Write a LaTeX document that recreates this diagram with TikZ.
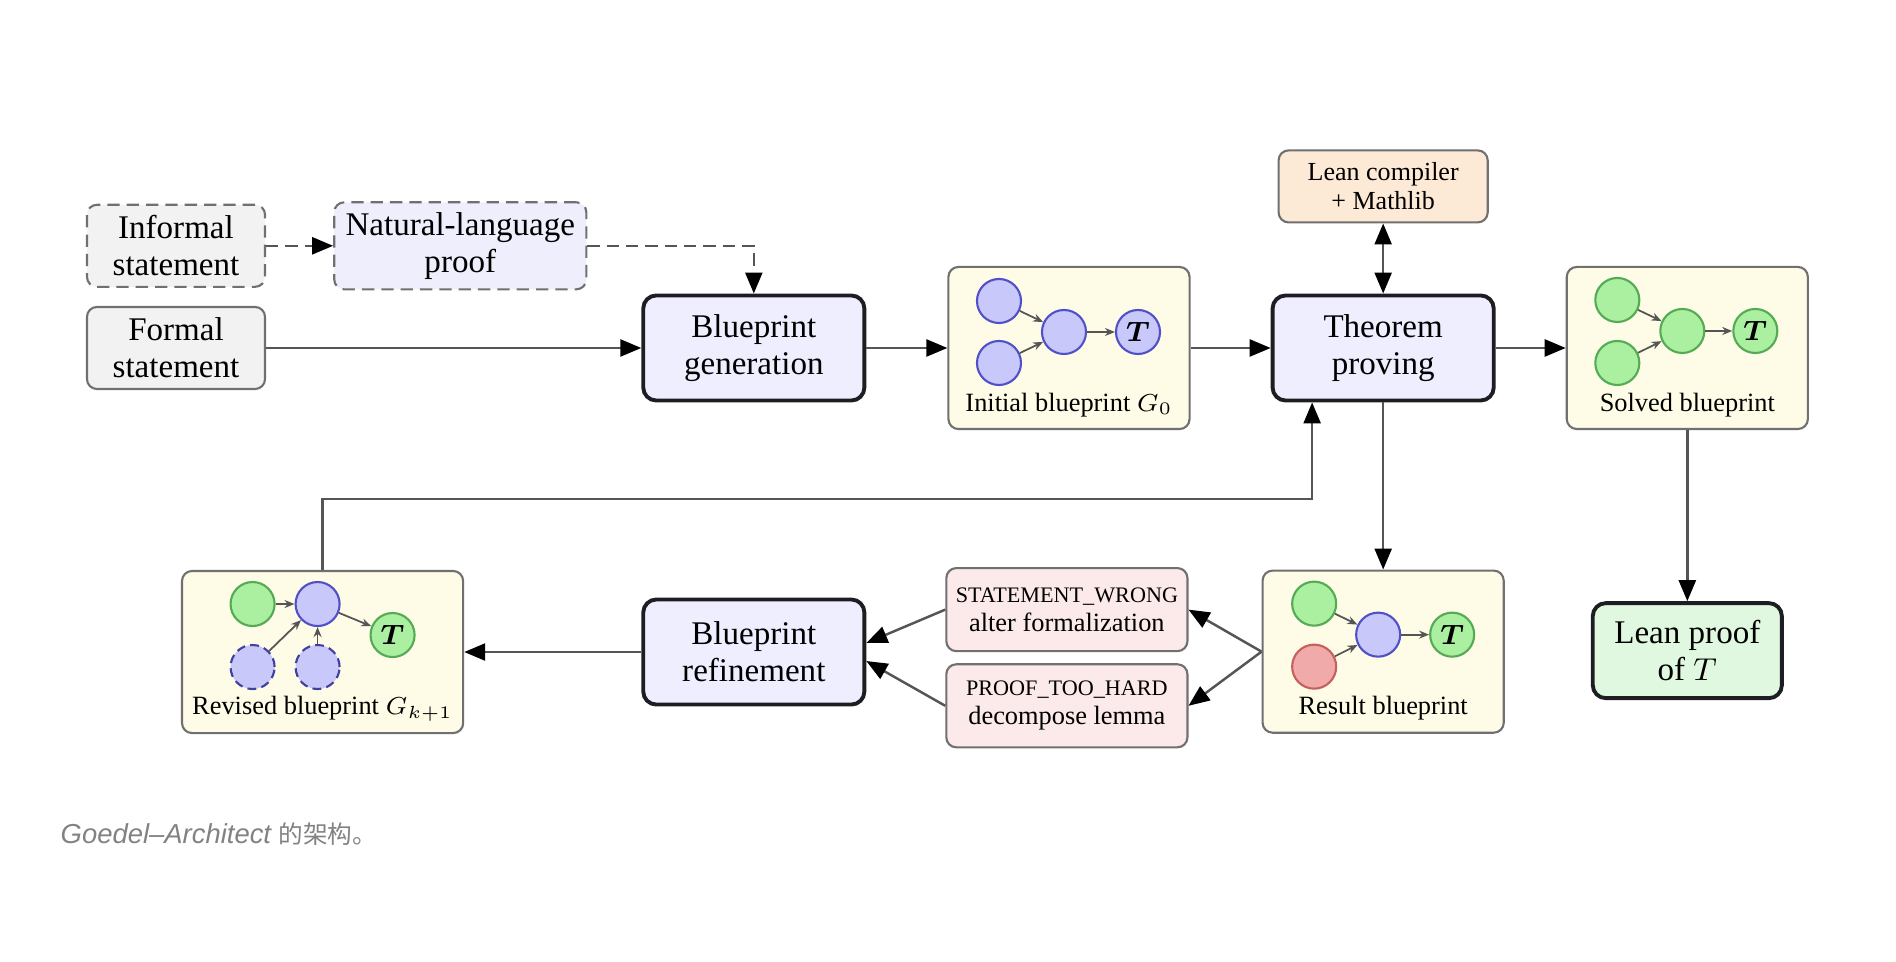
\documentclass[tikz,border=0pt]{standalone}
\usepackage{fontspec}
\setmainfont{Liberation Serif}
\newfontfamily\capfont{Liberation Sans}
\newfontfamily\cjkfont{Noto Sans CJK SC}
\usetikzlibrary{arrows.meta, positioning, calc}
\definecolor{greyfill}{RGB}{242,242,242}
\definecolor{nlfill}{RGB}{238,238,252}
\definecolor{procfill}{RGB}{238,238,255}
\definecolor{bpfill}{RGB}{254,252,230}
\definecolor{toolfill}{RGB}{252,233,214}
\definecolor{errfill}{RGB}{252,233,233}
\definecolor{proofill}{RGB}{224,248,224}
\definecolor{edge}{RGB}{112,112,112}
\definecolor{dark}{RGB}{30,30,34}
\definecolor{linecol}{RGB}{85,85,85}
\definecolor{openfill}{RGB}{200,200,250}
\definecolor{openedge}{RGB}{80,80,200}
\definecolor{donefill}{RGB}{170,240,160}
\definecolor{doneedge}{RGB}{85,170,85}
\definecolor{failfill}{RGB}{240,170,170}
\definecolor{failedge}{RGB}{200,95,95}
\definecolor{capgrey}{RGB}{130,130,130}

\begin{document}
\begin{tikzpicture}[
    x=0.01cm, y=-0.01cm,
    >={Triangle[length=0.21cm, width=0.17cm, color=black]},
    base/.style={rectangle, rounded corners=0.1cm, align=center, inner sep=0pt},
    input/.style={base, minimum width=1.78cm, minimum height=0.82cm, font=\fontsize{9.4}{10.5}\selectfont, fill=greyfill, draw=edge, line width=0.6pt},
    hint/.style={input, dash pattern=on 3.5pt off 2pt},
    process/.style={base, rounded corners=0.13cm, minimum width=2.21cm, minimum height=1.05cm, font=\fontsize{9.4}{10.5}\selectfont, fill=procfill, draw=dark, line width=1.1pt},
    graphbox/.style={base, minimum width=2.41cm, minimum height=1.62cm, fill=bpfill, draw=edge, line width=0.6pt},
    tool/.style={base, minimum width=2.09cm, minimum height=0.72cm, font=\fontsize{7.4}{8.2}\selectfont, fill=toolfill, draw=edge, line width=0.6pt},
    error/.style={base, minimum width=2.41cm, minimum height=0.83cm, font=\fontsize{7.5}{8.2}\selectfont, fill=errfill, draw=edge, line width=0.6pt},
    outcome/.style={base, rounded corners=0.13cm, minimum width=1.89cm, minimum height=0.95cm, font=\fontsize{9.4}{10.5}\selectfont, fill=proofill, draw=dark, line width=1.1pt},
    label/.style={font=\fontsize{7.5}{9}\selectfont, inner sep=0pt},
    vert/.style={circle, minimum size=0.44cm, inner sep=0pt, line width=0.6pt, font=\fontsize{8}{9}\selectfont\boldmath},
    open/.style={vert, fill=openfill, draw=openedge},
    done/.style={vert, fill=donefill, draw=doneedge},
    fail/.style={vert, fill=failfill, draw=failedge},
    arr/.style={->, line width=0.7pt, linecol},
    dasharr/.style={arr, dash pattern=on 3.5pt off 2pt},
    dep/.style={-{Stealth[length=0.1cm, width=0.08cm]}, line width=0.5pt, linecol},
]
\useasboundingbox (0,0) rectangle (1896,962);

% inputs
\node[input] (formal) at (176,348) {Formal\\statement};
\node[hint, above=0.18cm of formal] (informal) {Informal\\statement};
\node[hint, fill=nlfill, minimum width=2.52cm, minimum height=0.87cm, right=0.67cm of informal] (nlproof) {Natural-language\\proof};

% main line
\node[process, right=3.75cm of formal] (bpgen) {Blueprint\\generation};
\node[graphbox, right=0.81cm of bpgen] (initbp) {};
\node[process, right=0.8cm of initbp] (thmprove) {Theorem\\proving};
\node[graphbox, right=0.7cm of thmprove] (solvedbp) {};
\node[tool, above=0.7cm of thmprove] (leanc) {Lean compiler\\+ Mathlib};

% refinement loop
\node[graphbox, below=1.67cm of thmprove] (resultbp) {};
\node[outcome, below=1.71cm of solvedbp] (leanproof) {Lean proof\\of $T$};
\node[process, below=1.95cm of bpgen] (bpref) {Blueprint\\refinement};
\node[error, left=0.73cm of resultbp, yshift=0.42cm] (stwrong) {{\fontsize{6.3}{7}\selectfont STATEMENT\_WRONG}\\alter formalization};
\node[error, below=0.11cm of stwrong] (toohard) {{\fontsize{6.3}{7}\selectfont PROOF\_TOO\_HARD}\\decompose lemma};
\node[graphbox, minimum width=2.81cm, left=1.77cm of bpref] (revisedbp) {};

% initial blueprint
\node[open] (i1) at ($(initbp)+(-70,-47)$) {};
\node[open] (i2) at ($(initbp)+(-70,15)$) {};
\node[open] (i3) at ($(initbp)+(-5,-16)$) {};
\node[open] (i4) at ($(initbp)+(69,-16)$) {$T$};
\node[label] (initlbl) at ($(initbp)+(0,57)$) {Initial blueprint $G_0$};
\draw[dep] (i1) -- (i3);
\draw[dep] (i2) -- (i3);
\draw[dep] (i3) -- (i4);

% solved blueprint
\node[done] (s1) at ($(solvedbp)+(-70,-48)$) {};
\node[done] (s2) at ($(solvedbp)+(-70,15)$) {};
\node[done] (s3) at ($(solvedbp)+(-5,-17)$) {};
\node[done] (s4) at ($(solvedbp)+(68,-17)$) {$T$};
\node[label] (solvedlbl) at ($(solvedbp)+(0,57)$) {Solved blueprint};
\draw[dep] (s1) -- (s3);
\draw[dep] (s2) -- (s3);
\draw[dep] (s3) -- (s4);

% result blueprint
\node[done] (r1) at ($(resultbp)+(-69,-48)$) {};
\node[fail] (r2) at ($(resultbp)+(-69,15)$) {};
\node[open] (r3) at ($(resultbp)+(-5,-17)$) {};
\node[done] (r4) at ($(resultbp)+(69,-17)$) {$T$};
\node[label] (resultlbl) at ($(resultbp)+(0,57)$) {Result blueprint};
\draw[dep] (r1) -- (r3);
\draw[dep] (r2) -- (r3);
\draw[dep] (r3) -- (r4);

% revised blueprint
\node[done] (v1) at ($(revisedbp)+(-70,-48)$) {};
\node[open] (v2) at ($(revisedbp)+(-5,-48)$) {};
\node[done] (v3) at ($(revisedbp)+(70,-17)$) {$T$};
\node[open, dash pattern=on 2.5pt off 1.5pt, draw=openedge!80!black] (v4) at ($(revisedbp)+(-70,15)$) {};
\node[open, dash pattern=on 2.5pt off 1.5pt, draw=openedge!80!black] (v5) at ($(revisedbp)+(-5,15)$) {};
\node[label] (revisedlbl) at ($(revisedbp)+(0,57)$) {Revised blueprint $G_{k+1}$};
\draw[dep] (v1) -- (v2);
\draw[dep] (v2) -- (v3);
\draw[dep] (v4) -- (v2);
\draw[dep] (v5) -- (v2);

% connectors
\draw[dasharr] (informal) -- (nlproof);
\draw[dasharr] (nlproof.east) -| (bpgen.north);
\draw[arr] (formal) -- (bpgen);
\draw[arr] (bpgen) -- (initbp);
\draw[arr] (initbp) -- (thmprove);
\draw[arr, <->] (leanc) -- (thmprove);
\draw[arr] (thmprove) -- (solvedbp);
\draw[arr] (thmprove) -- (resultbp);
\draw[arr] (solvedbp) -- (leanproof);
\draw[arr] (resultbp.west) -- (stwrong.east);
\draw[arr] (resultbp.west) -- (toohard.east);
\draw[arr] (stwrong.west) -- ([yshift=0.09cm]bpref.east);
\draw[arr] (toohard.west) -- ([yshift=-0.09cm]bpref.east);
\draw[arr] (bpref) -- (revisedbp);
\coordinate (thmin) at ([xshift=-0.71cm]thmprove.south);
\draw[arr] (revisedbp.north) -- ++(0,-71) -| (thmin);

% caption
\node[anchor=west, inner sep=0pt, text=capgrey, font=\fontsize{7.8}{8.5}\selectfont] (caption) at (60,834) {\capfont\itshape Goedel\textendash Architect {\cjkfont\fontsize{7}{8}\selectfont 的架构。}};

\end{tikzpicture}
\end{document}
